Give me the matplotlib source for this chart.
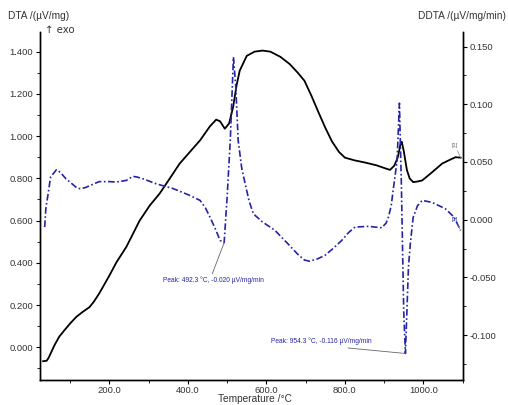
import matplotlib
matplotlib.use("Agg")
import matplotlib.pyplot as plt
from matplotlib.ticker import MultipleLocator, FormatStrFormatter

plt.rcParams['font.family'] = ['Liberation Sans', 'DejaVu Sans']
plt.rcParams['axes.unicode_minus'] = False

# DTA signal (left axis)
dta_temp = [31, 40, 45, 50, 60, 72, 85, 100, 115, 130, 149, 160, 174, 200, 218,
            243, 277, 303, 328, 354, 379, 405, 431, 456, 472, 482, 494, 505, 515,
            524, 532, 550, 570, 590, 610, 636, 660, 680, 697, 715, 731, 750, 767,
            785, 800, 825, 851, 880, 905, 915, 926, 935, 942, 945, 950, 958, 965,
            974, 985, 997, 1023, 1048, 1070, 1082, 1095]
dta_val = [-0.066, -0.064, -0.05, -0.03, 0.01, 0.05, 0.08, 0.113, 0.143, 0.165,
           0.19, 0.215, 0.255, 0.34, 0.403, 0.475, 0.60, 0.672, 0.728, 0.80,
           0.87, 0.925, 0.98, 1.046, 1.078, 1.07, 1.035, 1.06, 1.136, 1.24,
           1.31, 1.38, 1.40, 1.405, 1.40, 1.375, 1.34, 1.30, 1.262, 1.19, 1.12,
           1.04, 0.975, 0.925, 0.898, 0.885, 0.875, 0.862, 0.846, 0.84, 0.86,
           0.90, 0.965, 0.973, 0.93, 0.84, 0.80, 0.782, 0.785, 0.79, 0.83,
           0.87, 0.89, 0.90, 0.898]

# DDTA signal (right axis)
ddta_temp = [35, 38, 44, 50, 65, 75, 89, 105, 119, 130, 140, 160, 174, 200, 217,
             243, 252, 260, 270, 285, 320, 362, 405, 431, 445, 456, 470, 482,
             492.3, 500, 508, 516, 522, 528, 537, 546, 556, 567, 590, 621, 654,
             680, 697, 710, 730, 749, 770, 792, 810, 826, 860, 894, 905, 911,
             918, 924, 933, 939, 944, 950, 954.3, 958, 962, 967, 974, 985, 997,
             1022, 1056, 1078, 1095]
ddta_val = [-0.0064, 0.010, 0.023, 0.037, 0.0433, 0.041, 0.0355, 0.031, 0.027,
            0.027, 0.028, 0.031, 0.033, 0.033, 0.0326, 0.034, 0.036, 0.0375,
            0.037, 0.0355, 0.031, 0.027, 0.021, 0.0167, 0.010, 0.0023, -0.008,
            -0.018, -0.020, 0.02, 0.069, 0.141, 0.115, 0.069, 0.045, 0.031,
            0.016, 0.005, -0.002, -0.009, -0.0206, -0.030, -0.035, -0.036,
            -0.034, -0.031, -0.025, -0.018, -0.011, -0.0064, -0.0058, -0.007,
            -0.003, 0.0023, 0.012, 0.028, 0.051, 0.101, 0.03, -0.08, -0.116,
            -0.08, -0.041, -0.02, 0.002, 0.012, 0.0167, 0.015, 0.0095, 0.0023,
            -0.0093]

# Labelled DDTA peaks
peak_temp = [492.3, 954.3]
peak_val = [-0.020, -0.116]

TEXT = '#333333'
BLUE = '#2424a8'

fig = plt.figure(figsize=(5.08, 4.05), dpi=100)
ax = fig.add_axes([0.0787, 0.0617, 0.8327, 0.8593])
ax2 = ax.twinx()

ax.plot(dta_temp, dta_val, color='black', lw=1.3)
ax2.plot(ddta_temp, ddta_val, color=BLUE, lw=1.2, ls=(0, (4, 1.5, 1, 1.5)))

ax.set_xlim(23, 1101)
ax.set_ylim(-0.155, 1.493)
ax2.set_ylim(-0.139, 0.1627)

for a in (ax, ax2):
    a.spines['top'].set_visible(False)
    for s in a.spines.values():
        s.set_linewidth(1.0)

ax.xaxis.set_major_locator(MultipleLocator(200))
ax.xaxis.set_minor_locator(MultipleLocator(100))
ax.xaxis.set_major_formatter(FormatStrFormatter('%.1f'))
ax.yaxis.set_major_locator(MultipleLocator(0.2))
ax.yaxis.set_minor_locator(MultipleLocator(0.1))
ax.yaxis.set_major_formatter(FormatStrFormatter('%.3f'))
ax2.yaxis.set_major_locator(MultipleLocator(0.05))
ax2.yaxis.set_minor_locator(MultipleLocator(0.025))
ax2.yaxis.set_major_formatter(FormatStrFormatter('%.3f'))

for a in (ax, ax2):
    a.tick_params(which='major', direction='out', length=3, width=0.8,
                  labelsize=6.8, labelcolor=TEXT, pad=2)
    a.tick_params(which='minor', direction='out', length=2, width=0.6)
ax.tick_params(axis='x', which='major', pad=1.5)

fig.text(8 / 508, 1 - 16 / 405, 'DTA /(µV/mg)', fontsize=7.3, color=TEXT,
         ha='left', va='center')
fig.text(45 / 508, 1 - 30 / 405, '↑ exo', fontsize=7.3, color=TEXT,
         ha='left', va='center', family=['DejaVu Sans'])
fig.text(506 / 508, 1 - 16 / 405, 'DDTA /(µV/mg/min)', fontsize=7.3,
         color=TEXT, ha='right', va='center')
fig.text(255 / 508, 1 - 399.5 / 405, 'Temperature /°C', fontsize=7.3,
         color=TEXT, ha='center', va='center')

# Peak annotations
label_pos = [(336, -0.0526), (611, -0.1055)]
rel = [(0.48, 1.0), (0.48, 0.0)]
for (pt, pv), (tx, ty), rp in zip(zip(peak_temp, peak_val), label_pos, rel):
    ax2.annotate(f'Peak: {pt:.1f} °C, {pv:.3f} µV/mg/min', xy=(pt, pv),
                 xytext=(tx, ty), fontsize=4.8, color=BLUE, ha='left',
                 va='center',
                 arrowprops=dict(arrowstyle='-', color='#666666', lw=0.6,
                                 relpos=rp, shrinkA=0, shrinkB=0))

# Segment markers at curve ends
ax.annotate('[1]', xy=(dta_temp[-1], dta_val[-1]), xytext=(-4, 7),
            textcoords='offset points', fontsize=4, color='#666666',
            ha='center', va='bottom',
            arrowprops=dict(arrowstyle='-', color='#888888', lw=0.5,
                            shrinkA=0, shrinkB=0))
ax2.annotate('[1]', xy=(ddta_temp[-1], ddta_val[-1]), xytext=(-4, 6),
             textcoords='offset points', fontsize=4, color=BLUE,
             ha='center', va='bottom',
             arrowprops=dict(arrowstyle='-', color='#888888', lw=0.5,
                             shrinkA=0, shrinkB=0))

fig.savefig('out.png', dpi=100)
